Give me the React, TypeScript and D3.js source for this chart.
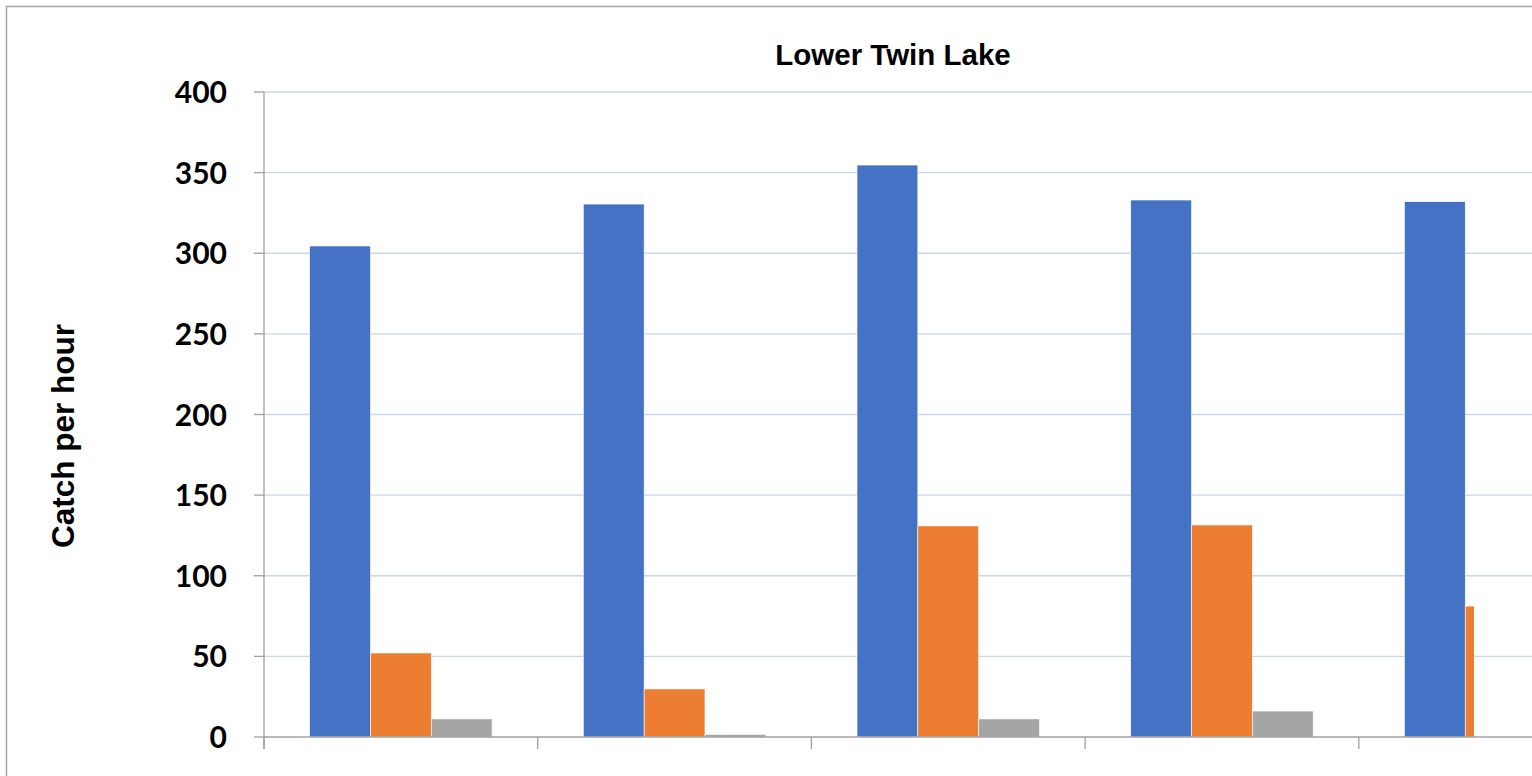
import React from "react";
import * as d3 from "d3";

const categories = ["A", "B", "C", "D", "E"];
const seriesNames = ["Series 1", "Series 2", "Series 3"];
const series1 = [304.5, 330.5, 354.7, 333, 332];
const series2 = [52.1, 29.8, 130.9, 131.5, 81.2];
const series3 = [11.2, 1.6, 11.2, 16.1, 10];
const yTicks = [0, 50, 100, 150, 200, 250, 300, 350, 400];
const colors = ["#4472C4", "#ED7D31", "#A5A5A5"];

export default function App() {
  const W = 1532, H = 776;
  const left = 264, top = 92, bottom = 737;
  const catW = 273.7;
  const x = d3.scaleBand<string>().domain(categories).range([left, left + catW * categories.length]).paddingInner(0).paddingOuter(0);
  const y = d3.scaleLinear().domain([0, 400]).range([bottom, top]);
  const inner = d3.scaleBand<string>().domain(seriesNames).range([0, x.bandwidth()]).paddingInner(0).paddingOuter(0.75);
  const data = [series1, series2, series3];
  const clipRight = 1474;
  return (
    <svg width={W} height={H} style={{ position: "absolute", left: 0, top: 0, background: "#fff" }}>
      <defs>
        <clipPath id="plotclip">
          <rect x={left} y={0} width={clipRight - left} height={H} />
        </clipPath>
      </defs>
      <rect x={0} y={0} width={W} height={H} fill="#fff" />
      <line x1={6.5} y1={6} x2={6.5} y2={H} stroke="#a6a6a6" strokeWidth={1.5} />
      <line x1={6} y1={6.5} x2={W} y2={6.5} stroke="#a6a6a6" strokeWidth={1.5} />
      <text x={893} y={65} textAnchor="middle" fontFamily="Liberation Sans, Arial, sans-serif" fontWeight="bold" fontSize={29.5} fill="#000">Lower Twin Lake</text>
      {yTicks.slice(1).map((t) => (
        <line key={"g" + t} x1={left} x2={W} y1={y(t)} y2={y(t)} stroke="#CAD6EC" strokeWidth={1.3} />
      ))}
      {yTicks.map((t) => (
        <g key={"t" + t}>
          <line x1={254} x2={left} y1={y(t)} y2={y(t)} stroke="#a0a0a0" strokeWidth={1.3} />
          <text x={227} y={y(t)} dy="0.37em" textAnchor="end" fontFamily="Lato, Carlito, sans-serif" fontWeight="bold" fontSize={30} fill="#000">{t}</text>
        </g>
      ))}
      <g clipPath="url(#plotclip)">
        {categories.map((c, i) =>
          data.map((s, j) => {
            const bx = (x(c) as number) + (inner(seriesNames[j]) as number);
            return (
              <rect key={c + j} x={bx} y={y(s[i])} width={inner.bandwidth()} height={y(0) - y(s[i])} fill={colors[j]} stroke="#fff" strokeWidth={0.6} />
            );
          })
        )}
      </g>
      <line x1={left} x2={left} y1={top} y2={749} stroke="#a0a0a0" strokeWidth={1.3} />
      <line x1={left} x2={W} y1={bottom} y2={bottom} stroke="#a0a0a0" strokeWidth={1.5} />
      {categories.map((c) => (
        <line key={"xt" + c} x1={(x(c) as number)} x2={(x(c) as number)} y1={bottom} y2={749} stroke="#a0a0a0" strokeWidth={1.3} />
      ))}
      <text transform={`translate(74,436) rotate(-90)`} textAnchor="middle" fontFamily="Liberation Sans, Arial, sans-serif" fontWeight="bold" fontSize={31.5} fill="#000">Catch per hour</text>
    </svg>
  );
}
